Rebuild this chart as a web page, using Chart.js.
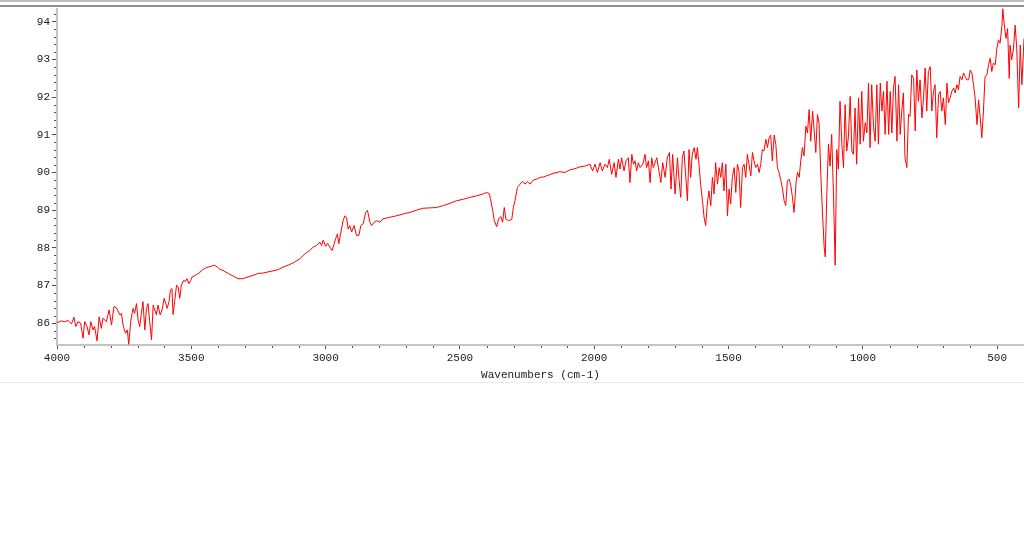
<!DOCTYPE html>
<html lang="en">
<head>
  <meta charset="UTF-8" />
  <title>IR Spectrum</title>
  <meta name="viewport" content="width=device-width, initial-scale=1" />

  <!-- Chart.js -->
  <script src="https://cdn.jsdelivr.net/npm/chart.js@4.4.1/dist/chart.umd.min.js"></script>

  <style>
    html, body { margin: 0; padding: 0; background: #fff; }
    #wrap { position: relative; width: 1024px; height: 382px; border-bottom: 1px solid #ebebeb; }
  </style>
</head>
<body>
  <div id="wrap"><canvas id="spectrumChart"></canvas></div>

  <script>
    // spectrum, high wavenumber -> low
    // 4000 - 3380 cm-1 (noisy start, broad band near 3410)
    const wnA = [4000,3984,3971,3959,3946,3937,3930,3922,3912,3903,3897,3888,3881,3874,3866,3860,3851,3843,3835,3829,
      3816,3806,3797,3788,3779,3766,3760,3754,3745,3738,3733,3725,3717,3711,3704,3698,3692,3686,3680,3673,
      3667,3661,3655,3648,3642,3636,3630,3624,3616,3609,3601,3595,3590,3583,3578,3572,3568,3562,3555,3549,
      3543,3537,3528,3522,3516,3509,3502,3497,3490,3481,3472,3462,3450,3437,3425,3415,3403,3394,3382];
    const tA = [86.01,86.06,86.04,86.07,85.98,86.16,85.91,86.04,86.00,85.60,86.04,85.91,85.69,86.04,85.82,85.91,85.53,86.17,85.86,86.13,
      86.04,86.35,85.95,86.44,86.41,86.22,86.26,85.95,85.73,85.82,85.44,86.08,86.39,86.26,86.52,86.08,85.91,86.26,86.57,85.82,
      86.39,86.52,86.04,85.56,86.48,86.35,86.22,86.48,86.22,86.35,86.66,86.52,86.39,86.57,86.88,86.92,86.23,86.57,87.01,86.96,
      86.66,87.01,87.14,87.10,87.18,87.05,87.14,87.23,87.25,87.29,87.32,87.40,87.45,87.49,87.51,87.54,87.49,87.43,87.40];

    // 3363 - 2167 cm-1 (CH bands, CO2 dip)
    const wnB = [3363,3344,3326,3307,3288,3270,3251,3233,3214,3195,3177,3158,3139,3115,3096,3077,3059,3046,3034,3021,
      3015,3009,3000,2993,2984,2976,2968,2963,2956,2951,2943,2935,2928,2922,2916,2910,2903,2894,2885,2876,
      2869,2860,2851,2844,2835,2829,2819,2810,2798,2786,2761,2736,2711,2686,2661,2637,2612,2587,2562,2537,
      2512,2487,2463,2438,2413,2401,2391,2386,2378,2372,2363,2356,2348,2341,2335,2329,2320,2307,2301,2295,
      2286,2276,2267,2258,2249,2239,2227,2214,2202,2190,2177,2167];
    const tB = [87.32,87.25,87.18,87.18,87.23,87.27,87.32,87.33,87.36,87.39,87.42,87.49,87.54,87.62,87.71,87.84,87.93,88.02,88.06,88.15,
      88.06,88.20,88.04,88.12,88.02,87.93,88.11,88.24,88.37,88.11,88.42,88.72,88.85,88.81,88.50,88.59,88.42,88.59,88.33,88.33,
      88.59,88.64,88.94,88.99,88.68,88.59,88.68,88.72,88.68,88.77,88.81,88.85,88.90,88.94,89.00,89.05,89.06,89.07,89.12,89.18,
      89.25,89.29,89.34,89.38,89.43,89.47,89.44,89.29,88.99,88.72,88.56,88.77,88.83,88.68,89.07,88.77,88.72,88.75,89.07,89.25,
      89.60,89.69,89.76,89.69,89.76,89.69,89.80,89.82,89.87,89.88,89.91,89.94];

    // 2146 - 1248 cm-1
    const wnC = [2146,2128,2109,2090,2072,2053,2034,2016,2006,1997,1988,1978,1970,1960,1951,1944,1935,1926,1919,1910,
      1904,1898,1889,1882,1873,1867,1860,1854,1848,1842,1836,1829,1819,1811,1805,1798,1792,1786,1780,1774,
      1767,1761,1752,1745,1736,1728,1720,1714,1708,1699,1690,1684,1678,1672,1666,1659,1653,1647,1641,1635,
      1628,1621,1616,1610,1604,1597,1591,1585,1579,1573,1566,1560,1554,1548,1541,1535,1529,1523,1517,1510,
      1504,1498,1492,1486,1479,1473,1467,1461,1455,1448,1442,1436,1430,1424,1417,1411,1405,1399,1392,1386,
      1380,1374,1368,1361,1355,1349,1343,1337,1330,1324,1318,1312,1305,1299,1293,1287,1281,1274,1268,1262,
      1256,1248];
    const tC = [89.99,90.02,90.00,90.07,90.10,90.15,90.17,90.22,90.04,90.22,90.00,90.26,90.04,90.22,90.13,90.35,89.95,90.26,89.87,90.35,
      90.09,90.39,90.04,90.31,90.39,89.73,90.48,90.22,90.31,90.04,90.26,90.13,90.22,90.48,90.13,90.31,89.73,90.39,90.13,90.26,
      90.39,90.13,89.73,90.26,89.87,90.39,90.53,89.56,90.48,89.43,90.39,89.78,89.34,90.39,90.57,89.87,89.25,90.61,89.87,90.48,
      90.66,90.35,90.66,90.22,89.69,89.25,88.81,88.59,89.16,89.51,89.12,89.87,89.43,90.26,89.69,90.13,89.87,90.26,89.51,90.22,
      88.85,89.56,89.16,89.87,90.13,89.47,90.22,90.04,89.07,90.13,90.22,89.87,90.48,90.22,89.91,90.53,90.31,90.13,90.22,90.00,
      90.22,90.61,90.57,90.88,90.66,90.92,90.99,90.31,90.99,90.75,90.13,90.00,89.78,89.56,89.25,89.12,89.78,89.82,89.65,89.34,
      88.94,89.78];

    // 1243 - 400 cm-1 (fingerprint region)
    const wnD = [1243,1237,1231,1225,1219,1212,1206,1200,1194,1187,1181,1175,1169,1163,1157,1150,1144,1140,1134,1128,
      1122,1116,1109,1103,1097,1091,1085,1078,1072,1066,1060,1054,1047,1041,1035,1029,1023,1016,1010,1004,
      998,991,985,979,973,967,960,954,948,942,935,929,923,917,910,904,898,892,886,880,
      873,867,861,855,849,843,836,830,824,818,811,805,799,793,787,780,774,768,762,756,
      749,743,737,731,725,718,712,706,700,693,687,681,675,669,662,656,650,644,638,631,
      625,619,613,606,600,594,588,582,575,569,563,557,551,545,538,532,526,520,514,507,
      501,495,489,482,479,474,467,461,455,452,446,439,433,427,420,414,408,402,400];
    const tD = [90.00,89.87,90.31,90.66,90.44,91.23,91.05,91.67,90.83,91.63,91.10,90.53,91.54,91.32,90.04,88.90,88.02,87.76,89.43,90.75,
      90.17,91.01,89.34,87.54,90.61,90.09,91.89,90.75,90.13,91.80,90.57,90.92,92.02,90.57,90.48,91.71,90.22,91.98,90.75,92.15,
      90.83,91.32,91.05,92.37,90.66,92.33,91.19,90.83,92.33,90.75,92.37,91.63,92.15,91.01,92.42,91.01,92.15,91.05,92.24,92.55,
      90.83,92.33,91.01,91.63,92.11,90.39,90.13,91.54,91.49,92.59,92.50,91.10,92.72,91.89,92.46,91.45,91.98,92.77,91.63,92.68,
      92.81,91.63,92.15,92.33,90.92,92.07,92.15,91.63,91.98,91.27,92.37,91.85,91.98,92.15,92.24,92.11,92.33,92.20,92.55,92.46,
      92.64,92.55,92.46,92.46,92.72,92.64,92.33,91.98,91.27,91.93,91.45,90.92,91.63,92.55,92.59,92.86,93.03,92.68,92.90,92.86,
      93.30,93.52,93.43,93.91,94.35,93.96,93.56,93.82,92.50,93.38,92.99,93.30,93.91,93.30,91.71,93.38,92.33,93.21,93.55];

    // axis setup
    const xMin = 400, xMax = 4000, xMinor = 100;
    const xLabels = [4000, 3500, 3000, 2500, 2000, 1500, 1000, 500];
    const yMin = 85.42, yMax = 94.35, yMinor = 0.2;
    const yLabels = [86, 87, 88, 89, 90, 91, 92, 93, 94];

    const wavenumbers = [...wnA, ...wnB, ...wnC, ...wnD];
    const transmittance = [...tA, ...tB, ...tC, ...tD];
    const points = wavenumbers.map((w, i) => ({ x: w, y: transmittance[i] }));

    const labelFont = { family: "'Liberation Mono', 'DejaVu Sans Mono', monospace", size: 11 };

    // gray header lines above the plot
    const frameLines = {
      id: 'frameLines',
      beforeDraw(chart) {
        const c = chart.ctx;
        c.save();
        c.fillStyle = '#bdbdbd';
        c.fillRect(0, 0, chart.width, 2);
        c.fillStyle = '#8f8f8f';
        c.fillRect(0, 5, chart.width, 2);
        c.restore();
      }
    };

    // short minor ticks between the labelled ones
    const minorTicks = {
      id: 'minorTicks',
      afterDraw(chart) {
        const c = chart.ctx;
        const area = chart.chartArea;
        const xs = chart.scales.x, ys = chart.scales.y;
        c.save();
        c.strokeStyle = '#505050';
        c.lineWidth = 1;
        c.beginPath();
        for (let w = xMin + xMinor; w < xMax; w += xMinor) {
          if (xLabels.includes(w)) continue;
          const px = Math.round(xs.getPixelForValue(w)) + 0.5;
          c.moveTo(px, area.bottom + 1);
          c.lineTo(px, area.bottom + 3);
        }
        for (let k = Math.ceil(yMin / yMinor); k * yMinor <= yMax; k++) {
          if (k % 5 === 0) continue;
          const py = Math.round(ys.getPixelForValue(k * yMinor)) + 0.5;
          c.moveTo(area.left - 3, py);
          c.lineTo(area.left - 1, py);
        }
        c.stroke();
        c.restore();
      }
    };

    const ctx = document.getElementById('spectrumChart').getContext('2d');
    new Chart(ctx, {
      type: 'line',
      data: {
        datasets: [{
          data: points,
          borderColor: '#ff0000',
          borderWidth: 1,
          pointRadius: 0,
          tension: 0,
          fill: false
        }]
      },
      options: {
        responsive: true,
        maintainAspectRatio: false,
        animation: false,
        layout: { padding: { top: 7, left: 0, right: 0, bottom: 0 } },
        plugins: { legend: { display: false }, tooltip: { enabled: false } },
        scales: {
          x: {
            type: 'linear',
            reverse: true,
            min: xMin,
            max: xMax,
            afterFit: s => { s.height = 37; },
            afterBuildTicks: s => { s.ticks = xLabels.map(v => ({ value: v })); },
            border: { color: '#c4c4c4', width: 2 },
            grid: { drawOnChartArea: false, tickLength: 4, tickColor: '#505050' },
            ticks: {
              autoSkip: false,
              maxRotation: 0,
              padding: 2,
              color: '#1a1a1a',
              font: labelFont,
              callback: v => String(v)
            },
            title: {
              display: true,
              text: 'Wavenumbers (cm-1)',
              color: '#1a1a1a',
              font: labelFont,
              padding: { top: 0, bottom: 0 }
            }
          },
          y: {
            min: yMin,
            max: yMax,
            afterFit: s => { s.width = 57; },
            afterBuildTicks: s => { s.ticks = yLabels.map(v => ({ value: v })); },
            border: { color: '#c4c4c4', width: 2 },
            grid: { drawOnChartArea: false, tickLength: 5, tickColor: '#505050' },
            ticks: {
              autoSkip: false,
              padding: 2,
              color: '#1a1a1a',
              font: labelFont,
              callback: v => String(v)
            }
          }
        }
      },
      plugins: [frameLines, minorTicks]
    });
  </script>
</body>
</html>
